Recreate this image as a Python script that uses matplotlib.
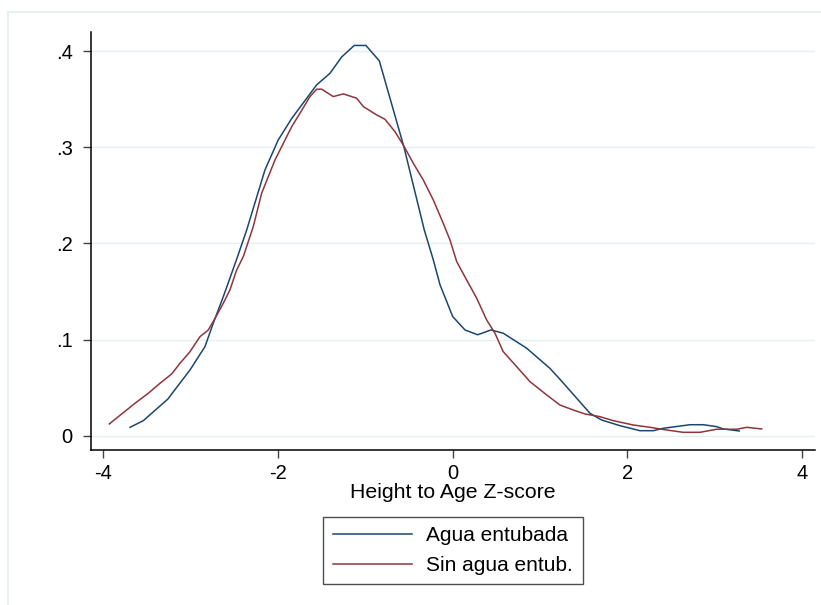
import matplotlib
matplotlib.use("Agg")
import matplotlib.pyplot as plt
from matplotlib.patches import Rectangle

# kernel density, Agua entubada
blue_x = [-3.694, -3.542, -3.263, -3.007, -2.836, -2.741, -2.626, -2.473, -2.358, -2.149,
          -1.997, -1.843, -1.557, -1.405, -1.271, -1.127, -0.993, -0.840, -0.603, -0.557,
          -0.325, -0.222, -0.145, 0.0, 0.141, 0.286, 0.438, 0.579, 0.847, 1.114,
          1.228, 1.572, 1.706, 1.915, 2.144, 2.297, 2.411, 2.717, 2.869, 3.022,
          3.098, 3.281]
blue_y = [0.0087, 0.0156, 0.0379, 0.0684, 0.0926, 0.117, 0.1446, 0.1836, 0.214, 0.2765,
          0.3077, 0.330, 0.365, 0.377, 0.394, 0.406, 0.406, 0.390, 0.3147, 0.300,
          0.214, 0.183, 0.157, 0.124, 0.110, 0.105, 0.110, 0.1066, 0.091, 0.070,
          0.0587, 0.0233, 0.0163, 0.0104, 0.0052, 0.0052, 0.0077, 0.0114, 0.0114, 0.0094,
          0.007, 0.0049]

# kernel density, Sin agua entub.
red_x = [-3.931, -3.771, -3.637, -3.485, -3.351, -3.217, -3.122, -3.007, -2.893, -2.798,
         -2.721, -2.626, -2.550, -2.473, -2.397, -2.283, -2.187, -2.034, -1.843, -1.748,
         -1.634, -1.557, -1.500, -1.367, -1.252, -1.099, -1.023, -0.870, -0.775, -0.661,
         -0.566, -0.451, -0.337, -0.222, -0.108, -0.031, 0.046, 0.160, 0.275, 0.389,
         0.484, 0.579, 0.733, 0.885, 1.076, 1.228, 1.381, 1.515, 1.686, 1.839,
         2.068, 2.259, 2.450, 2.640, 2.831, 3.022, 3.251, 3.366, 3.537]
red_y = [0.0122, 0.0239, 0.0337, 0.0441, 0.0545, 0.0642, 0.0753, 0.0874, 0.103, 0.110,
         0.122, 0.1378, 0.1516, 0.1724, 0.1863, 0.2175, 0.2522, 0.2869, 0.3215, 0.3355,
         0.3528, 0.3605, 0.3605, 0.3528, 0.3556, 0.3511, 0.3424, 0.3337, 0.3292, 0.3163,
         0.3025, 0.2835, 0.2661, 0.2453, 0.2210, 0.2036, 0.1811, 0.162, 0.143, 0.1204,
         0.1066, 0.0874, 0.0718, 0.0562, 0.0424, 0.0319, 0.0267, 0.0226, 0.0198, 0.0156,
         0.0111, 0.0087, 0.0059, 0.0035, 0.0035, 0.0067, 0.0067, 0.0087, 0.007]

labels = ["Agua entubada", "Sin agua entub."]
xticks = [-4, -2, 0, 2, 4]
yticks = [0, 0.1, 0.2, 0.3, 0.4]
ytick_labels = ["0", ".1", ".2", ".3", ".4"]

plt.rcParams['font.family'] = ['Liberation Sans', 'DejaVu Sans']
plt.rcParams['axes.unicode_minus'] = False

fig = plt.figure(figsize=(8.21, 6.05), dpi=100)
fig.patch.set_facecolor('white')
ax = fig.add_axes([90.7 / 821, 1 - 450 / 605, (815 - 90.7) / 821, (450 - 32) / 605])

# light outer frame of the graph region (cut off on right and bottom)
fig.patches.append(Rectangle((8.3 / 821, -0.05), 1.2, 1 - 12.3 / 605 + 0.05,
                             transform=fig.transFigure, fill=False,
                             edgecolor='#e9f0f1', linewidth=1.5))

ax.plot(blue_x, blue_y, color='#1a476f', lw=1.1, label=labels[0])
ax.plot(red_x, red_y, color='#90353b', lw=1.1, label=labels[1])

ax.set_xlim(-4.144, 4.148)
ax.set_ylim(-0.0149, 0.42)
ax.set_xticks(xticks)
ax.set_yticks(yticks)
ax.set_yticklabels(ytick_labels)
ax.tick_params(axis='both', labelsize=14.5, length=6, width=1, color='#444444', pad=4)
ax.tick_params(axis='y', pad=7)

ax.grid(axis='y', color='#e6eef0', lw=1)
ax.set_axisbelow(True)
for s in ['top', 'right']:
    ax.spines[s].set_visible(False)
for s in ['left', 'bottom']:
    ax.spines[s].set_linewidth(1.1)
    ax.spines[s].set_color('black')

ax.set_xlabel("Height to Age Z-score", fontsize=15.3, labelpad=0)

leg = ax.legend(loc='upper center', bbox_to_anchor=(452.9 / 821, 1 - 517 / 605),
                bbox_transform=fig.transFigure, fontsize=15, frameon=True,
                fancybox=False, edgecolor='#222222', handlelength=3.8,
                handletextpad=0.7, labelspacing=0.5, borderpad=0.45,
                borderaxespad=0)
leg.get_frame().set_linewidth(1.0)

fig.savefig('out.png', dpi=100, facecolor='white')
